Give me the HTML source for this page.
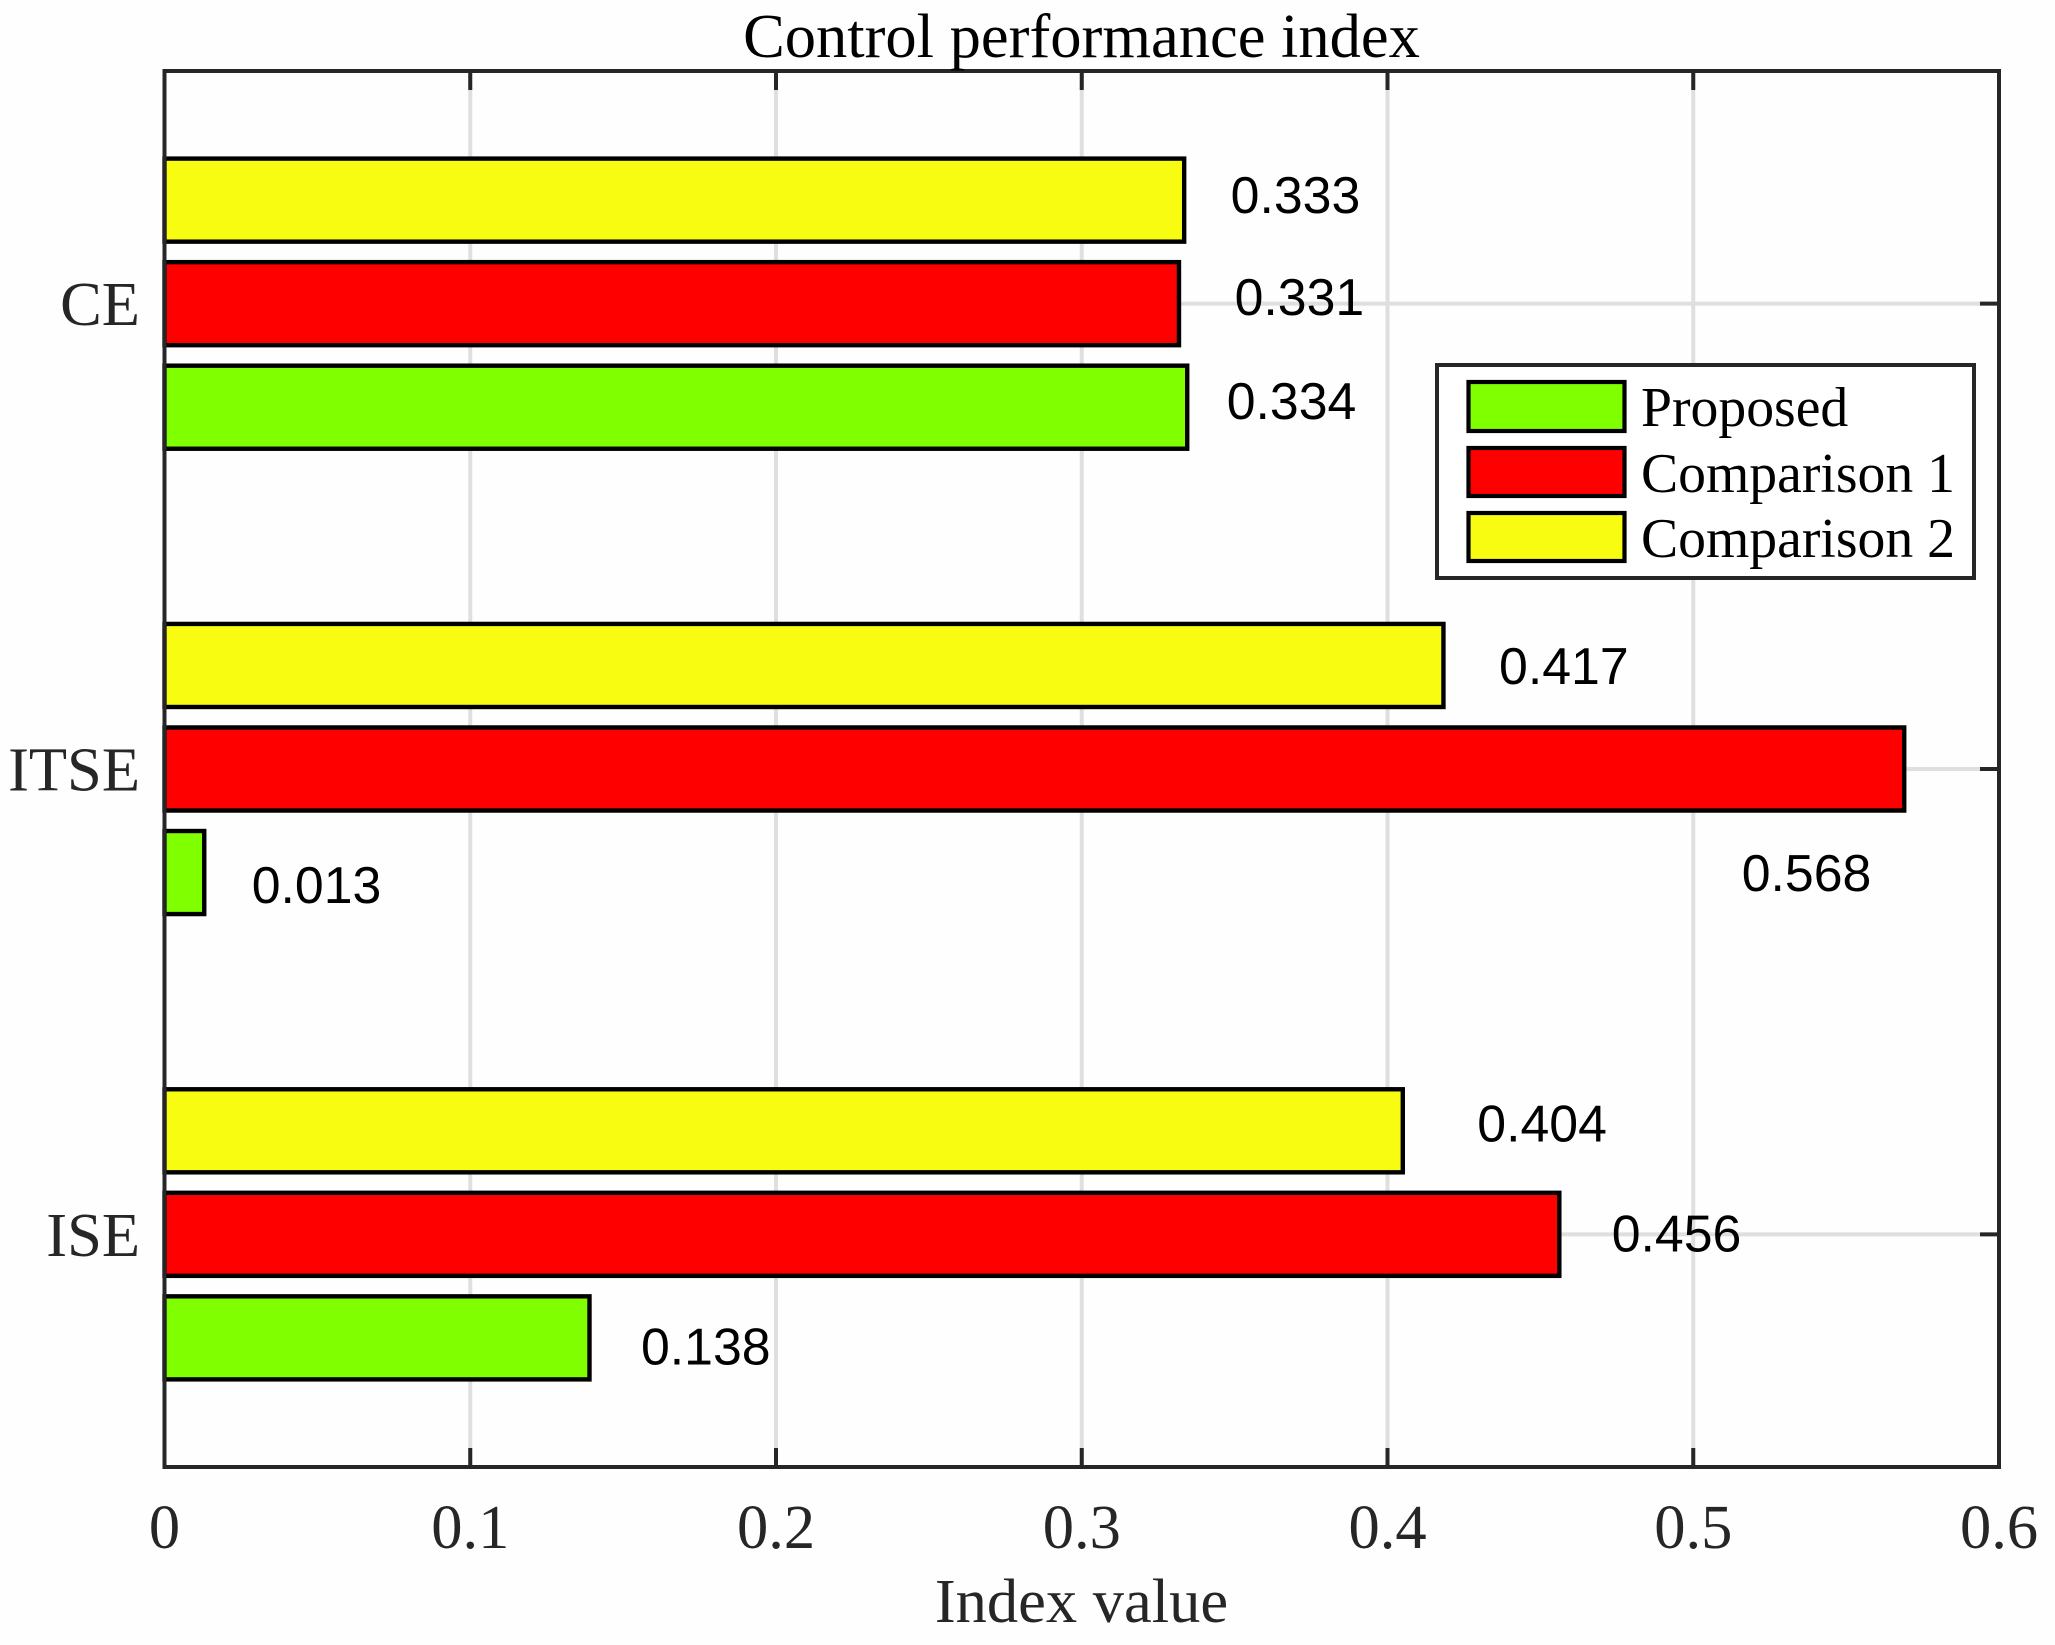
<!DOCTYPE html>
<html lang="en">
<head>
<meta charset="utf-8">
<title>Control performance index</title>
<style>
html,body{margin:0;padding:0;background:#fefefe;}
svg{display:block;}
text{font-family:"Liberation Serif","Times New Roman",serif;}
.val{font-family:"Liberation Sans",Arial,sans-serif;font-size:51.8px;fill:#000;}
.tick{font-size:62.5px;fill:#262626;}
.leg{font-size:55.7px;fill:#000;}
</style>
</head>
<body>
<svg id="chart" width="2055" height="1645" viewBox="0 0 2055 1645" xmlns="http://www.w3.org/2000/svg">
  <rect x="0" y="0" width="2055" height="1645" fill="#fefefe"/>
  <g id="grid"></g>
  <g id="ticks"></g>
  <g id="bars"></g>
  <rect x="164.5" y="71" width="1834.5" height="1396" fill="none" stroke="#262626" stroke-width="4"/>
  <g id="tick-labels"></g>
  <g id="value-labels"></g>
  <text x="1081.5" y="57" text-anchor="middle" font-size="62.5" fill="#000">Control performance index</text>
  <text x="1081.5" y="1622" text-anchor="middle" font-size="62.5" fill="#262626">Index value</text>
  <g>
    <rect x="1437" y="365" width="537" height="213" fill="#fff" stroke="#262626" stroke-width="4"/>
    <rect x="1468.5" y="382" width="156" height="49" fill="#80ff00" stroke="#000" stroke-width="4.2"/>
    <text class="leg" x="1641" y="426">Proposed</text>
    <rect x="1468.5" y="448" width="156" height="48" fill="#ff0000" stroke="#000" stroke-width="4.2"/>
    <text class="leg" x="1641" y="492">Comparison 1</text>
    <rect x="1468.5" y="513" width="156" height="48" fill="#f8fc10" stroke="#000" stroke-width="4.2"/>
    <text class="leg" x="1641" y="557">Comparison 2</text>
  </g>
</svg>
<script>
// Chart data
const categories = ["ISE", "ITSE", "CE"];
const seriesNames = ["proposed", "comparison-1", "comparison-2"];
const proposedValues = [0.139, 0.013, 0.3345];
const comparison1Values = [0.4562, 0.569, 0.3318];
const comparison2Values = [0.405, 0.4183, 0.3335];
const proposedLabels = ["0.138", "0.013", "0.334"];
const comparison1Labels = ["0.456", "0.568", "0.331"];
const comparison2Labels = ["0.404", "0.417", "0.333"];
const xTicks = [0, 0.1, 0.2, 0.3, 0.4, 0.5, 0.6];
const xTickLabels = ["0", "0.1", "0.2", "0.3", "0.4", "0.5", "0.6"];

// Layout
const plot = { left: 164.5, right: 1999, top: 71, bottom: 1467 };
const xDomain = [0, 0.6];
const yDomain = [0.5, 3.5];
const seriesValues = [proposedValues, comparison1Values, comparison2Values];
const seriesLabels = [proposedLabels, comparison1Labels, comparison2Labels];
const seriesFill = ["#80ff00", "#ff0000", "#f8fc10"];
const seriesOffset = [-0.2225, 0, 0.2225];
const barThickness = 0.1785;
// label placement relative to the end of each bar, per series then category
const labelNudge = [
  [[51.5, 26.5], [47.5, 30.5], [39.5, 12]],
  [[52.4, 17], [-162.5, 122], [55.6, 11.5]],
  [[74.5, 10.5], [55.6, 18.5], [46.5, 13]]
];

function xScale(v) {
  return plot.left + (v - xDomain[0]) / (xDomain[1] - xDomain[0]) * (plot.right - plot.left);
}
function yScale(v) {
  return plot.bottom - (v - yDomain[0]) / (yDomain[1] - yDomain[0]) * (plot.bottom - plot.top);
}
function bandSize(units) {
  return units / (yDomain[1] - yDomain[0]) * (plot.bottom - plot.top);
}
function svgEl(tag, attrs, parent) {
  const el = document.createElementNS("http://www.w3.org/2000/svg", tag);
  for (const k in attrs) { el.setAttribute(k, attrs[k]); }
  parent.appendChild(el);
  return el;
}

const gridG = document.getElementById("grid");
const ticksG = document.getElementById("ticks");
const barsG = document.getElementById("bars");
const tickLabelsG = document.getElementById("tick-labels");
const valueLabelsG = document.getElementById("value-labels");

// vertical grid + x ticks
xTicks.forEach(function (t, i) {
  const x = xScale(t);
  if (i > 0 && i < xTicks.length - 1) {
    const g = svgEl("line", { x1: x, x2: x, y1: plot.top, y2: plot.bottom, stroke: "#dfdfdf", "stroke-width": 4 }, gridG);
    
    
    const a = svgEl("line", { x1: x, x2: x, y1: plot.bottom, y2: plot.bottom - 19, stroke: "#262626", "stroke-width": 4 }, ticksG);
    
    
    const b = svgEl("line", { x1: x, x2: x, y1: plot.top, y2: plot.top + 19, stroke: "#262626", "stroke-width": 4 }, ticksG);
    
    
  }
  const lbl = svgEl("text", { x: x, y: 1548, "text-anchor": "middle", class: "tick" }, tickLabelsG);
  
  
  lbl.textContent = xTickLabels[i];
});

// horizontal grid + y ticks + category labels
categories.forEach(function (c, i) {
  const y = yScale(i + 1);
  const g = svgEl("line", { x1: plot.left, x2: plot.right, y1: y, y2: y, stroke: "#dfdfdf", "stroke-width": 4 }, gridG);
  
  
  const a = svgEl("line", { x1: plot.left, x2: plot.left + 19, y1: y, y2: y, stroke: "#262626", "stroke-width": 4 }, ticksG);
  
  
  const b = svgEl("line", { x1: plot.right, x2: plot.right - 19, y1: y, y2: y, stroke: "#262626", "stroke-width": 4 }, ticksG);
  
  
  const lbl = svgEl("text", { x: 140, y: y + 21.5, "text-anchor": "end", class: "tick" }, tickLabelsG);
  
  
  lbl.textContent = c;
});

// bars + printed values
seriesValues.forEach(function (values, s) {
  values.forEach(function (v, i) {
    const cy = yScale(i + 1 + seriesOffset[s]);
    const h = bandSize(barThickness);
    const bar = svgEl("rect", {
      x: xScale(0), y: cy - h / 2, width: xScale(v) - xScale(0), height: h,
      fill: seriesFill[s], stroke: "#000", "stroke-width": 4.4
    }, barsG);
    
    
    const t = svgEl("text", {
      x: xScale(v) + labelNudge[s][i][0], y: cy + labelNudge[s][i][1], class: "val"
    }, valueLabelsG);
    
    
    t.textContent = seriesLabels[s][i];
  });
});
</script>
</body>
</html>
